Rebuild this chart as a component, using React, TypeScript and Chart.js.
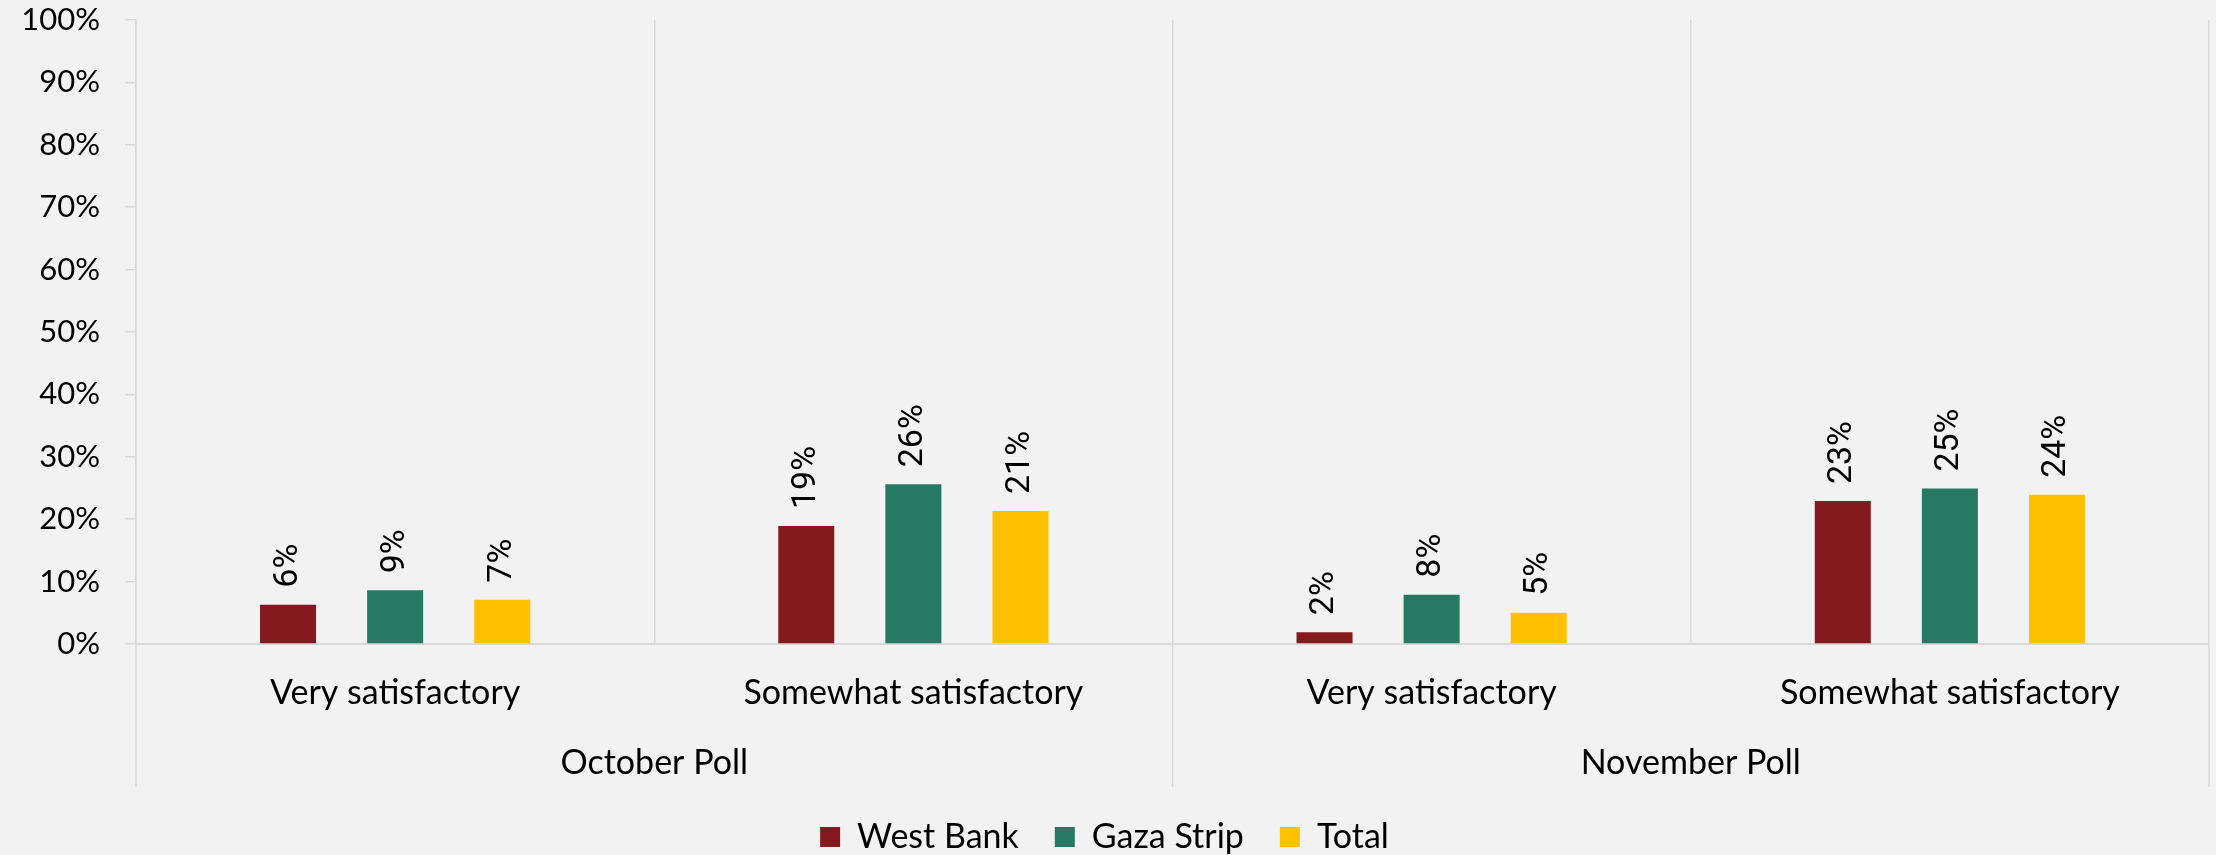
import React, { useEffect, useRef } from "react";
import { Chart, registerables } from "chart.js";

Chart.register(...registerables);

// ---- data ----
const categories = ["Very satisfactory", "Somewhat satisfactory", "Very satisfactory", "Somewhat satisfactory"];
const groups = ["October Poll", "November Poll"];
const westBank = [6.3, 18.9, 1.9, 22.9];
const gazaStrip = [8.6, 25.6, 7.9, 24.9];
const total = [7.1, 21.3, 5.0, 23.9];
const seriesNames = ["West Bank", "Gaza Strip", "Total"];
const seriesColors = ["#841A1E", "#267A63", "#FFC000"];

// ---- layout / style constants ----
const W = 2216;
const H = 855;
const BG = "#F2F2F2";
const GRID = "#D9D9D9";
const AXIS_FONT = "Lato";
const TICK_SIZE = 31;
const TEXT_SIZE = 34;
const LABEL_FONT = "Roboto";
const LABEL_SIZE = 34;
const PLOT_LEFT = 136;
const PLOT_BOTTOM = 644;
const PAD_BOTTOM = -9;

const valueLabels = {
  id: "valueLabels",
  afterDatasetsDraw(chart: any) {
    const ctx = chart.ctx;
    ctx.save();
    ctx.font = `${LABEL_SIZE}px ${LABEL_FONT}`;
    ctx.fillStyle = "#000";
    ctx.textAlign = "left";
    ctx.textBaseline = "middle";
    chart.data.datasets.forEach((ds: any, i: number) => {
      const meta = chart.getDatasetMeta(i);
      meta.data.forEach((bar: any, j: number) => {
        const v = ds.data[j];
        ctx.save();
        ctx.translate(bar.x, bar.y - 17);
        ctx.rotate(-Math.PI / 2);
        ctx.fillText(Math.round(v) + "%", 0, 0);
        ctx.restore();
      });
    });
    ctx.restore();
  },
};

const groupAxis = {
  id: "groupAxis",
  afterDraw(chart: any) {
    const x = chart.scales.x;
    const area = chart.chartArea;
    const ctx = chart.ctx;
    const half = (x.getPixelForValue(1) - x.getPixelForValue(0)) / 2;
    ctx.save();
    ctx.strokeStyle = GRID;
    ctx.lineWidth = 1.5;
    const bounds = [
      x.getPixelForValue(0) - half,
      x.getPixelForValue(1) + half,
      x.getPixelForValue(3) + half,
    ];
    bounds.forEach((b) => {
      ctx.beginPath();
      ctx.moveTo(b, area.bottom);
      ctx.lineTo(b, area.bottom + 143);
      ctx.stroke();
    });
    ctx.font = `${TEXT_SIZE}px ${AXIS_FONT}`;
    ctx.fillStyle = "#000";
    ctx.textAlign = "center";
    ctx.textBaseline = "middle";
    groups.forEach((g, gi) => {
      const cx = (x.getPixelForValue(gi * 2) + x.getPixelForValue(gi * 2 + 1)) / 2;
      ctx.fillText(g, cx, area.bottom + 119);
    });
    ctx.restore();
  },
};

export default function App() {
  const ref = useRef<HTMLCanvasElement | null>(null);

  useEffect(() => {
    document.body.style.margin = "0";
    document.body.style.background = BG;
    const canvas = ref.current;
    if (!canvas) return;
    const chart = new Chart(canvas, {
      type: "bar",
      data: {
        labels: categories,
        datasets: [westBank, gazaStrip, total].map((d, i) => ({
          label: seriesNames[i],
          data: d,
          backgroundColor: seriesColors[i],
          borderWidth: 0,
          categoryPercentage: 0.62,
          barPercentage: 0.523,
        })),
      },
      options: {
        animation: false,
        responsive: false,
        maintainAspectRatio: false,
        layout: { padding: { top: 20, right: 7, left: 0, bottom: PAD_BOTTOM } },
        plugins: {
          tooltip: { enabled: false },
          legend: {
            position: "bottom",
            labels: {
              boxWidth: 20,
              boxHeight: 20,
              padding: 36,
              color: "#000",
              font: { family: AXIS_FONT, size: TEXT_SIZE },
            },
          },
        },
        scales: {
          x: {
            type: "category",
            offset: true,
            grid: {
              offset: true,
              display: true,
              drawOnChartArea: true,
              drawTicks: false,
              color: GRID,
              lineWidth: 1.5,
            },
            border: { display: true, color: GRID, width: 2 },
            ticks: {
              color: "#000",
              padding: 29,
              maxRotation: 0,
              autoSkip: false,
              font: { family: AXIS_FONT, size: TEXT_SIZE },
            },
            afterFit: (s: any) => {
              const lh = s.chart.legend ? s.chart.legend.height : 0;
              s.height = s.chart.height - PLOT_BOTTOM - PAD_BOTTOM - lh;
              s.paddingLeft = 0;
              s.paddingRight = 0;
            },
          },
          y: {
            min: 0,
            max: 100,
            ticks: {
              stepSize: 10,
              color: "#000",
              padding: 25,
              font: { family: AXIS_FONT, size: TICK_SIZE },
              callback: (v: any) => v + "%",
            },
            grid: {
              display: true,
              drawOnChartArea: false,
              drawTicks: true,
              tickLength: 11,
              color: GRID,
              lineWidth: 1.5,
            },
            border: { display: true, color: GRID, width: 1.5 },
            afterFit: (s: any) => {
              s.width = PLOT_LEFT;
              s.paddingTop = 0;
              s.paddingBottom = 0;
            },
          },
        },
      },
      plugins: [valueLabels, groupAxis],
    });
    return () => chart.destroy();
  }, []);

  return (
    <div style={{ width: W, height: H, background: BG }}>
      <canvas ref={ref} width={W} height={H} style={{ display: "block" }} />
    </div>
  );
}
